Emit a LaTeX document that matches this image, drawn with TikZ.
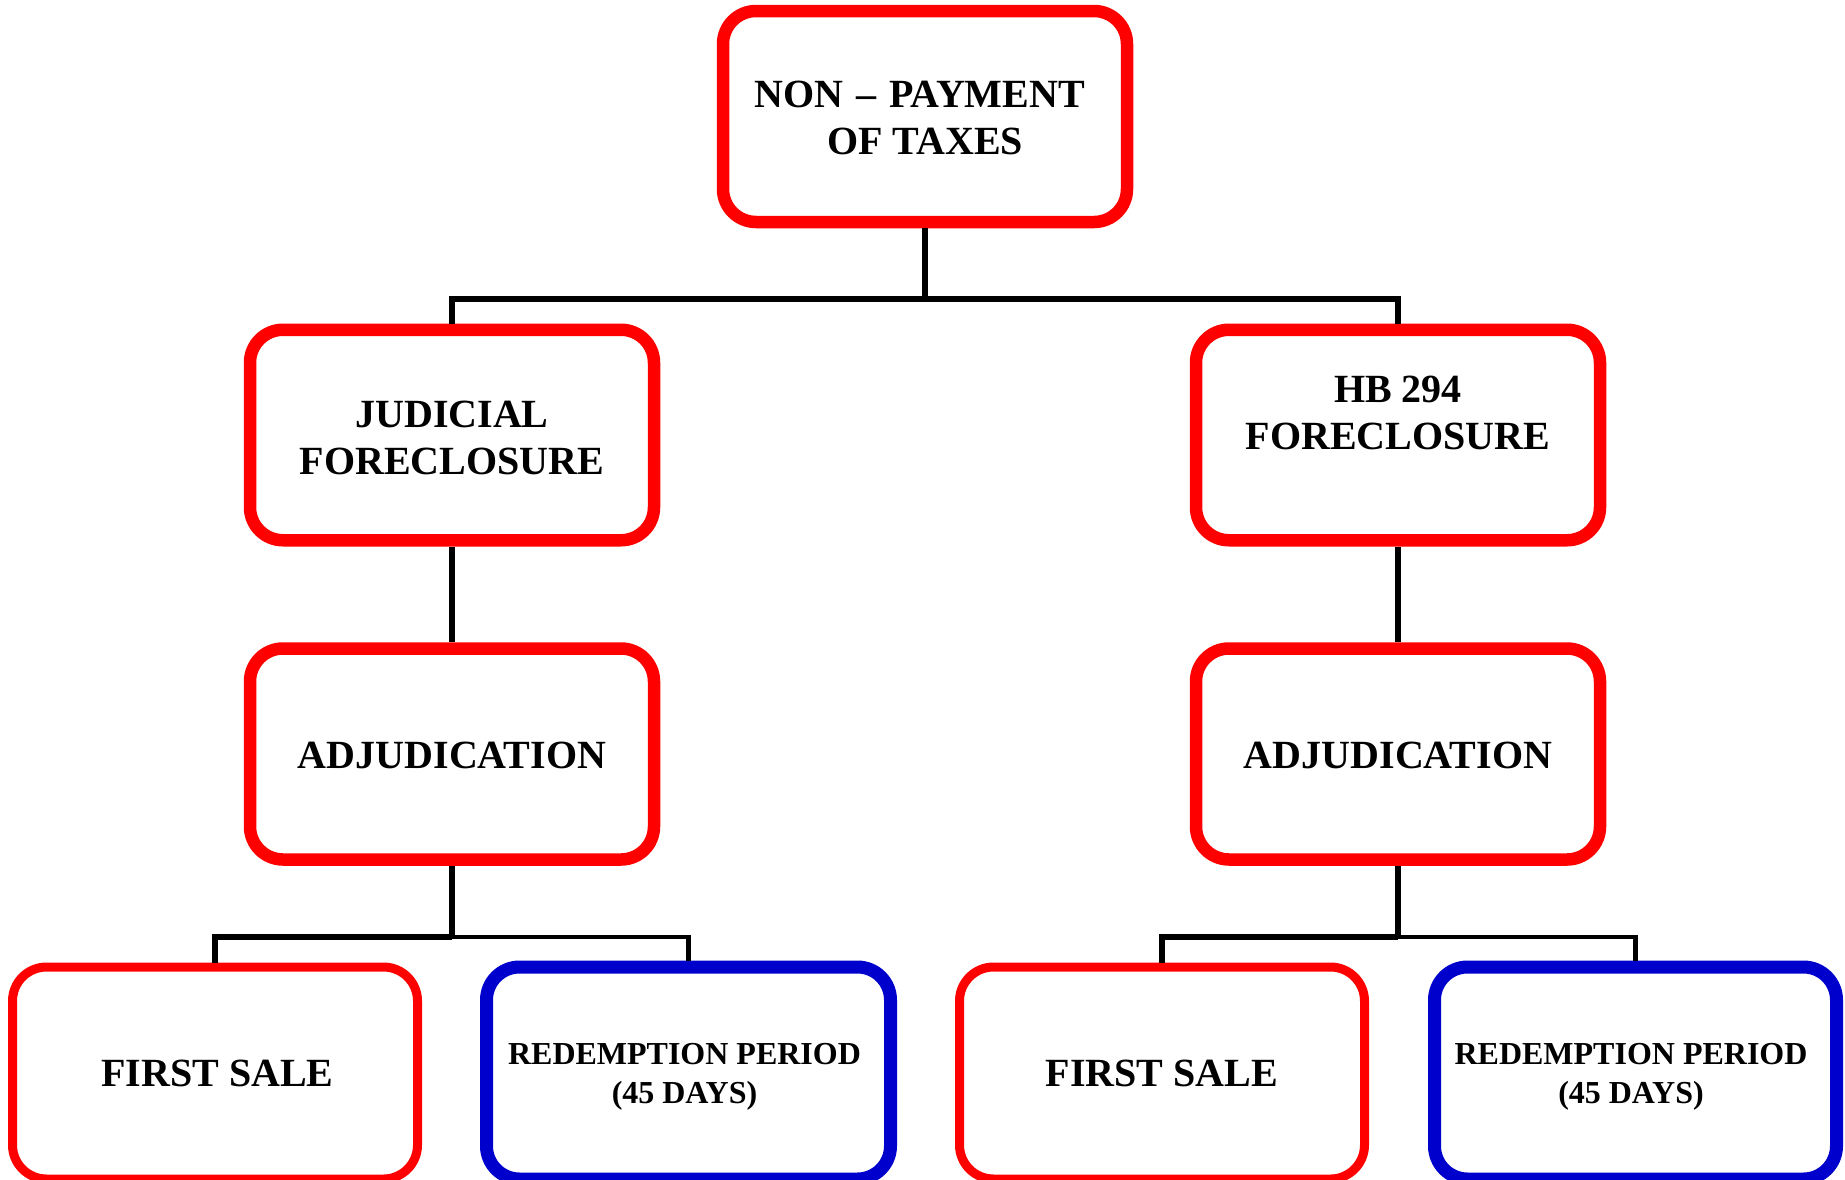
\documentclass[tikz,border=0pt]{standalone}
\usepackage{fontspec}
\setmainfont{Liberation Serif}
\definecolor{boxred}{RGB}{255,0,0}
\definecolor{boxblue}{RGB}{0,0,205}
% centred lines of text, moved vertically by #1 without changing the box size
\newcommand{\txtlines}[2]{\raisebox{#1}[\height][\depth]{\begin{tabular}{@{}c@{}}#2\end{tabular}}}
\begin{document}
\begin{tikzpicture}[x=1pt,y=-1pt,
  box/.style={draw=boxred,line width=12.5pt,rounded corners=33pt,fill=white,
    minimum width=404pt,minimum height=211pt,align=center,inner sep=0pt,
    font=\bfseries\fontsize{40}{47}\selectfont},
  salebox/.style={box,line width=9pt,minimum width=405pt,minimum height=212pt,rounded corners=34pt},
  redbox/.style={box,draw=boxblue,line width=13pt,minimum height=212pt,
    font=\bfseries\fontsize{32}{39}\selectfont},
  link/.style={draw=black,line width=5.5pt}]
\useasboundingbox (0,0) rectangle (1845,1179);

% level 0
\node[box] (top) at (925,116.5)
  {\txtlines{-5.5pt}{NON\hspace{13pt}--\hspace{13pt}PAYMENT\kern10.5pt\\OF TAXES}};

% level 1
\node[box,minimum height=210.5pt] (jud) at (452,435) {\txtlines{-6.5pt}{JUDICIAL\\FORECLOSURE}};
\node[box,minimum height=210.5pt] (hb) at (1398,435) {\txtlines{18pt}{HB 294\\FORECLOSURE}};

% level 2
\node[box] (adjL) at (452,754) {\txtlines{-5.5pt}{ADJUDICATION}};
\node[box] (adjR) at (1398,754) {\txtlines{-5.5pt}{ADJUDICATION}};

% level 3
\node[salebox] (fsL) at (215,1073) {\kern5pt\txtlines{-4.5pt}{FIRST SALE}};
\node[redbox,minimum width=404pt] (rpL) at (688.5,1073) {\txtlines{-3.5pt}{REDEMPTION PERIOD\\(45 DAYS)}\kern8pt};
\node[salebox] (fsR) at (1162,1073) {\txtlines{-4.5pt}{FIRST SALE}};
\node[redbox,minimum width=402pt] (rpR) at (1635.5,1073) {\txtlines{-3.5pt}{REDEMPTION PERIOD\\(45 DAYS)}\kern9pt};

% connectors
\coordinate (forkT) at (925,299);
\coordinate (forkL) at (452,937);
\coordinate (forkR) at (1398,937);
\draw[link] (top.south) -- (forkT);
\draw[link] (forkT) -| (jud.north);
\draw[link] (forkT) -| (hb.north);
\draw[link] (jud.south) -- (adjL.north);
\draw[link] (hb.south) -- (adjR.north);
\draw[link] (adjL.south) -- (forkL);
\draw[link] (forkL) -| (fsL.north);
\draw[link,line width=4.5pt] (forkL) -| (rpL.north);
\draw[link] (adjR.south) -- (forkR);
\draw[link] (forkR) -| (fsR.north);
\draw[link,line width=4.5pt] (forkR) -| (rpR.north);
\end{tikzpicture}
\end{document}
